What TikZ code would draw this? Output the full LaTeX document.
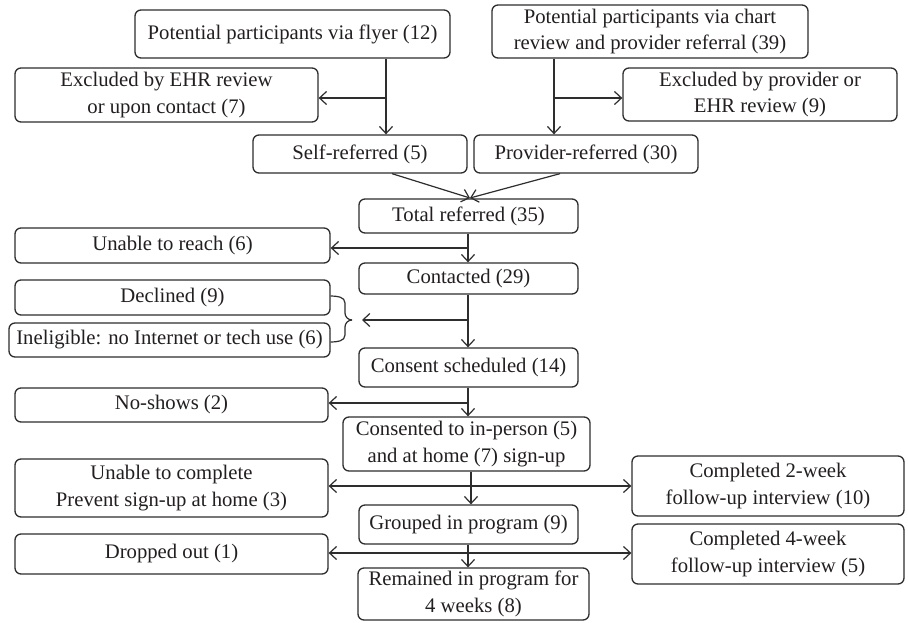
\documentclass[tikz,border=0pt]{standalone}
\usepackage{fontspec}
\setmainfont{Liberation Serif}
\usetikzlibrary{arrows.meta}
\definecolor{linec}{HTML}{2E2E2E}
\definecolor{textc}{HTML}{231F20}
\begin{document}
\begin{tikzpicture}[x=1pt,y=-1pt,
  box/.style={draw=linec, line width=1.3pt, rounded corners=6pt, inner sep=0pt, align=center,
    font=\fontsize{20.7}{26.5}\selectfont, text=textc},
  conn/.style={draw=linec, line width=1.2pt},
  arr/.style={conn, -{Straight Barb[length=7pt,width=13pt,line width=1.2pt]}}]
\useasboundingbox (0,0) rectangle (908,622);
\fill[white] (0,0) rectangle (908,622);

\node[box, minimum width=315, minimum height=48] (flyer) at (292.5,34) {Potential participants via flyer (12)};
\node[box, minimum width=316, minimum height=53] (chart) at (650,31.5) {Potential participants via chart\\review and provider referral (39)};
\node[box, minimum width=303, minimum height=54] (exclL) at (166.5,95) {Excluded by EHR review\\or upon contact (7)};
\node[box, minimum width=274, minimum height=53] (exclR) at (760,94.5) {Excluded by provider or\\EHR review (9)};
\node[box, minimum width=214, minimum height=38] (self) at (360,154) {Self-referred (5)};
\node[box, minimum width=224, minimum height=38] (prov) at (586,154) {Provider-referred (30)};
\node[box, minimum width=219, minimum height=34] (total) at (468.5,216) {Total referred (35)};
\node[box, minimum width=315, minimum height=35] (unreach) at (172.5,245.5) {Unable to reach (6)};
\node[box, minimum width=219, minimum height=31] (contacted) at (468.5,278.5) {Contacted (29)};
\node[box, minimum width=315, minimum height=35] (declined) at (172.5,297.5) {Declined (9)};
\node[box, minimum width=321, minimum height=34] (inelig) at (169.5,340) {Ineligible: no Internet or tech use (6)};
\node[box, minimum width=219, minimum height=39] (consent) at (468.5,367.5) {Consent scheduled (14)};
\node[box, minimum width=313, minimum height=34] (noshow) at (171.5,405) {No-shows (2)};
\node[box, minimum width=247, minimum height=54] (consented) at (466.5,444) {Consented to in-person (5)\\and at home (7) sign-up};
\node[box, minimum width=313, minimum height=58] (unablec) at (171.5,488) {Unable to complete\\Prevent sign-up at home (3)};
\node[box, minimum width=272, minimum height=60] (c2) at (768,486) {Completed 2-week\\follow-up interview (10)};
\node[box, minimum width=219, minimum height=39] (grouped) at (468.5,524.5) {Grouped in program (9)};
\node[box, minimum width=313, minimum height=40] (dropped) at (171.5,554) {Dropped out (1)};
\node[box, minimum width=272, minimum height=60] (c4) at (768,554) {Completed 4-week\\follow-up interview (5)};
\node[box, minimum width=231, minimum height=52] (remained) at (473.5,594) {Remained in program for\\4 weeks (8)};

% flyer branch
\coordinate (j1) at (386,98);
\draw[arr] (flyer.south -| j1) -- (self.north -| j1);
\draw[arr] (j1) -- (j1 -| exclL.east);
% chart branch
\coordinate (j2) at (554,98);
\draw[arr] (chart.south -| j2) -- (prov.north -| j2);
\draw[arr] (j2) -- (j2 -| exclR.west);
% merge
\coordinate (m) at (470,198);
\draw[arr] ([xshift=32]self.south) -- (m);
\draw[arr] ([xshift=-26]prov.south) -- (m);
% total -> contacted
\coordinate (j3) at (468,248);
\draw[arr] (total.south -| j3) -- (contacted.north -| j3);
\draw[arr] (j3) -- (j3 -| unreach.east);
% contacted -> consent
\coordinate (j4) at (468,320);
\coordinate (bt) at (362,320);
\draw[arr] (contacted.south -| j4) -- (consent.north -| j4);
\draw[arr] (j4) -- (bt);
\draw[conn] (declined.east |- 0,296) to[out=0,in=90] (345,303) -- (345,313) to[out=-90,in=180] (352,320);
\draw[conn] (inelig.east |- 0,342) to[out=0,in=-90] (345,335) -- (345,327) to[out=90,in=180] (352,320);
% consent -> consented
\coordinate (j5) at (468,403);
\draw[arr] (consent.south -| j5) -- (consented.north -| j5);
\draw[arr] (j5) -- (j5 -| noshow.east);
% consented -> grouped
\coordinate (j6) at (471,486);
\draw[arr] (consented.south -| j6) -- (grouped.north -| j6);
\draw[arr] (j6) -- (j6 -| unablec.east);
\draw[arr] (j6) -- (j6 -| c2.west);
% grouped -> remained
\coordinate (j7) at (468,553);
\draw[arr] (grouped.south -| j7) -- (remained.north -| j7);
\draw[arr] (j7) -- (j7 -| dropped.east);
\draw[arr] (j7) -- (j7 -| c4.west);
\end{tikzpicture}
\end{document}
